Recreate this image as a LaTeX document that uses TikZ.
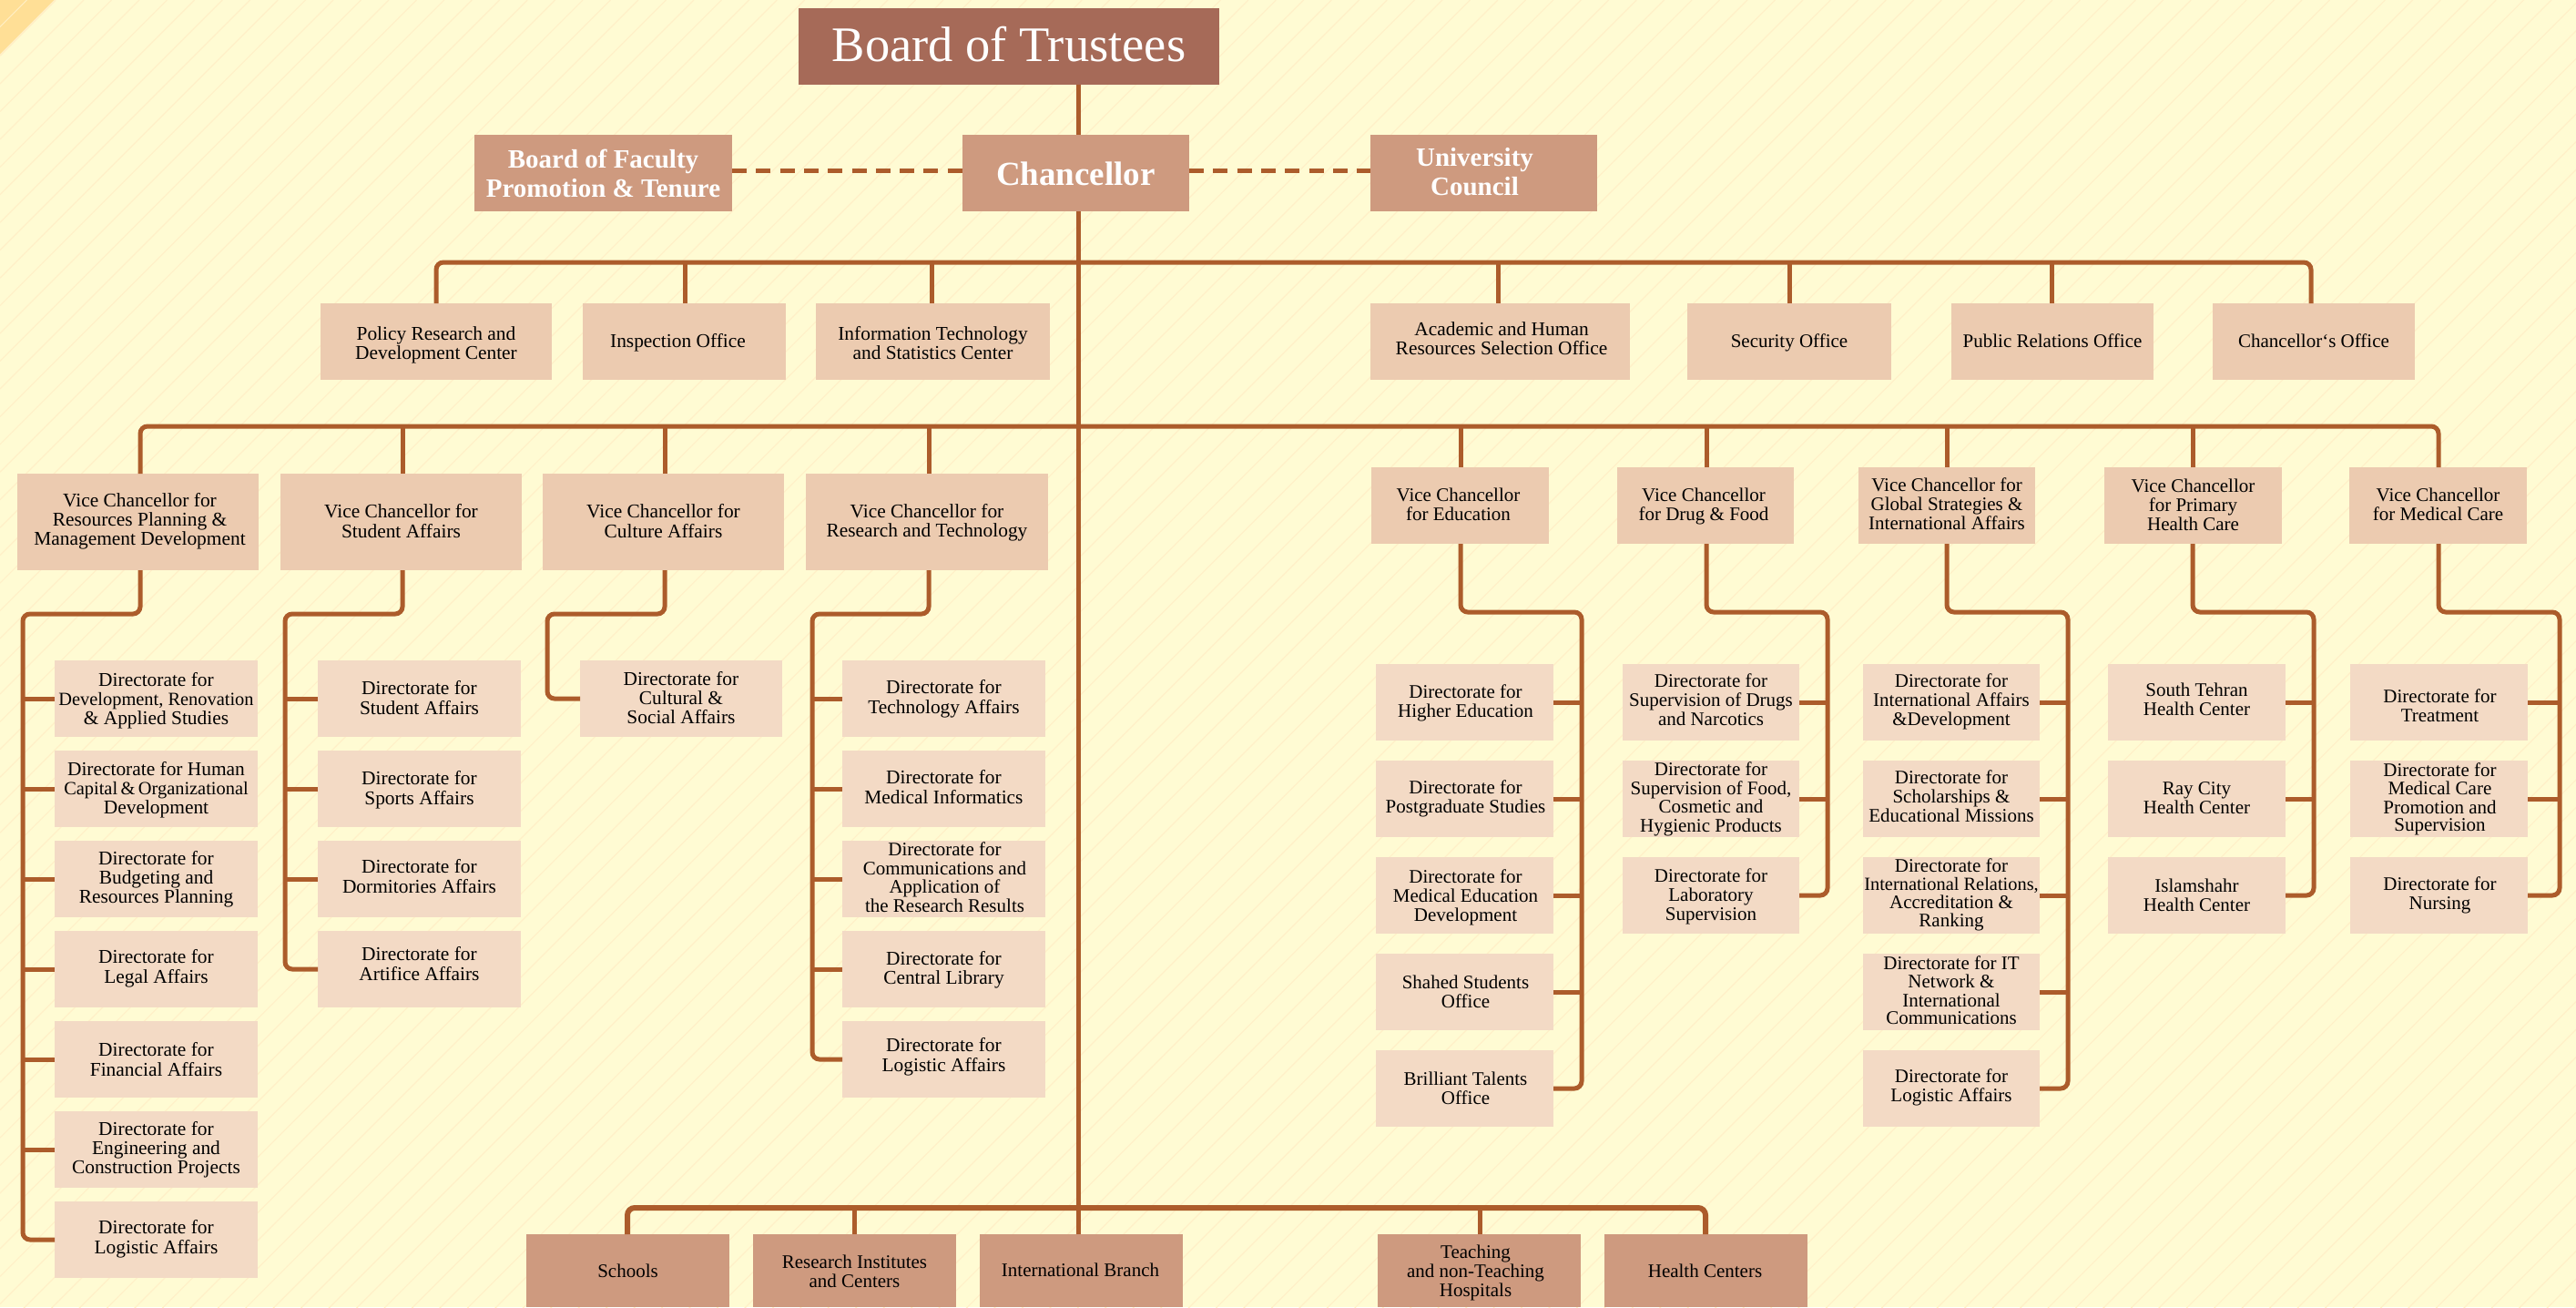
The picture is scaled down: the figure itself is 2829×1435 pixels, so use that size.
\documentclass[tikz,border=0pt]{standalone}
\usepackage{fontspec}
\setmainfont{Liberation Serif}
\definecolor{bgc}{HTML}{FFFBD3}
\definecolor{hatchc}{HTML}{FFF0C8}
\definecolor{cornerc}{HTML}{FFDF96}
\definecolor{linec}{HTML}{AC5C2B}
\definecolor{trustc}{HTML}{A66A58}
\definecolor{chanc}{HTML}{CE9A7F}
\definecolor{vicec}{HTML}{ECCBB0}
\definecolor{direcc}{HTML}{F3DAC5}
\newsavebox{\txbox}
\newlength{\txraise}
% shifted, centred text inside a box node
\newcommand{\tx}[3]{\sbox{\txbox}{\begin{tabular}{@{}c@{}}#3\end{tabular}}%
\setlength{\txraise}{\dimexpr(\dp\txbox-\ht\txbox)/2-#2pt\relax}%
\makebox[0pt][c]{\hspace*{#1pt}\hspace*{#1pt}\raisebox{\txraise}[0pt][0pt]{\usebox{\txbox}}}}
% name, style, x1, y1, x2, y2, dx, dy, text
\newcommand{\bx}[9]{\node[#2,minimum width={(#5-#3)*1pt},minimum height={(#6-#4)*1pt}] (#1) at ({(#3+#5)/2},{(#4+#6)/2}) {\tx{#7}{#8}{#9}};}
\newcommand{\nar}[1]{{\fontsize{20.4}{21}\selectfont #1}}
\tikzset{
  boxbase/.style={inner sep=0pt,outer sep=0pt,text=black,font=\fontsize{21}{21}\selectfont},
  wide/.style={font=\fontsize{21.4}{21}\selectfont},
  trusteebox/.style={boxbase,fill=trustc,text=white,font=\fontsize{54.5}{60}\selectfont},
  chancbox/.style={boxbase,fill=chanc,text=white,font=\fontsize{37}{40}\selectfont\bfseries},
  sidebox/.style={boxbase,fill=chanc,text=white,font=\fontsize{29}{32}\selectfont\bfseries},
  vicebox/.style={boxbase,fill=vicec},
  direcbox/.style={boxbase,fill=direcc},
  tightbox/.style={boxbase,fill=direcc,font=\fontsize{21}{19.3}\selectfont},
  unitbox/.style={boxbase,fill=chanc},
  conn/.style={draw=linec,line width=5pt,rounded corners=8pt},
  dashconn/.style={draw=linec,line width=5pt,dash pattern=on 16pt off 10.3pt},
}
\begin{document}
\begin{tikzpicture}[x=1pt,y=-1pt]
\useasboundingbox (0,0) rectangle (2829,1435);
\begin{scope}
\clip (0,0) rectangle (2829,1435);
\fill[bgc] (0,0) rectangle (2829,1435);
\foreach \k in {3,...,140} {
  \pgfmathsetmacro{\s}{30.45*\k+0.65}
  \draw[hatchc,line width=1.2pt] (\s,0) -- (0,\s);
}
\fill[cornerc] (0,0) -- (61,0) -- (0,61) -- cycle;
\draw[hatchc,line width=2pt] (61,0) -- (0,61);
\draw[hatchc,line width=1pt] (29.5,0) -- (0,29.5);
\end{scope}

% top
\bx{board}{trusteebox}{877}{9}{1339}{93}{0}{4}{Board of Trustees}
\bx{chancellor}{chancbox}{1057}{148}{1306}{232}{0}{5}{Chancellor}
\bx{faculty}{sidebox}{521}{148}{804}{232}{0}{4}{Board of Faculty\\Promotion \& Tenure}
\bx{council}{sidebox}{1505}{148}{1754}{232}{-10}{2}{University\\Council}

% offices
\bx{off1}{vicebox,wide}{352}{333}{606}{417}{0}{5}{Policy Research and\\Development Center}
\bx{off2}{vicebox,wide}{640}{333}{863}{417}{-7}{2}{Inspection Office}
\bx{off3}{vicebox,wide}{896}{333}{1153}{417}{0}{5}{Information Technology\\and Statistics Center}
\bx{off4}{vicebox,wide}{1505}{333}{1790}{417}{1.5}{0}{Academic and Human\\Resources Selection Office}
\bx{off5}{vicebox}{1853}{333}{2077}{417}{0}{2}{Security Office}
\bx{off6}{vicebox}{2143}{333}{2365}{417}{0}{2}{Public Relations Office}
\bx{off7}{vicebox}{2430}{333}{2652}{417}{0}{2}{Chancellor‘s Office}

% vice chancellors
\bx{vc1}{vicebox,wide}{19}{520}{284}{626}{2}{0}{Vice Chancellor for\\Resources Planning \&\\Management Development}
\bx{vc2}{vicebox,wide}{308}{520}{573}{626}{0}{2}{Vice Chancellor for\\Student Affairs}
\bx{vc3}{vicebox,wide}{596}{520}{861}{626}{0}{2}{Vice Chancellor for\\Culture Affairs}
\bx{vc4}{vicebox,wide}{885}{520}{1151}{626}{0}{2}{Vice Chancellor for\\Research and Technology}
\bx{vc5}{vicebox}{1506}{513}{1701}{597}{-2}{2}{Vice Chancellor\\for Education}
\bx{vc6}{vicebox}{1776}{513}{1970}{597}{-2}{2}{Vice Chancellor\\for Drug \& Food}
\bx{vc7}{vicebox}{2041}{513}{2235}{597}{0}{1}{Vice Chancellor for\\Global Strategies \&\\International Affairs}
\bx{vc8}{vicebox}{2311}{513}{2506}{597}{0}{2}{Vice Chancellor\\for Primary\\Health Care}
\bx{vc9}{vicebox}{2580}{513}{2775}{597}{0}{2}{Vice Chancellor\\for Medical Care}

% column 1
\bx{a1}{direcbox,wide}{60}{725}{283}{809}{0}{3}{Directorate for\\\nar{Development, Renovation}\\\& Applied Studies}
\bx{a2}{direcbox,wide}{60}{824}{283}{908}{0}{2}{Directorate for Human\\\nar{Capital\,\&\,Organizational}\\Development}
\bx{a3}{direcbox,wide}{60}{923}{283}{1007}{0}{1}{Directorate for\\Budgeting and\\Resources Planning}
\bx{a4}{direcbox,wide}{60}{1022}{283}{1106}{0}{0}{Directorate for\\Legal Affairs}
\bx{a5}{direcbox,wide}{60}{1121}{283}{1205}{0}{3}{Directorate for\\Financial Affairs}
\bx{a6}{direcbox,wide}{60}{1220}{283}{1304}{0}{1}{Directorate for\\Engineering and\\Construction Projects}
\bx{a7}{direcbox,wide}{60}{1319}{283}{1403}{0}{0}{Directorate for\\Logistic Affairs}
% column 2
\bx{b1}{direcbox,wide}{349}{725}{572}{809}{0}{2}{Directorate for\\Student Affairs}
\bx{b2}{direcbox,wide}{349}{824}{572}{908}{0}{2}{Directorate for\\Sports Affairs}
\bx{b3}{direcbox,wide}{349}{923}{572}{1007}{0}{0}{Directorate for\\Dormitories Affairs}
\bx{b4}{direcbox,wide}{349}{1022}{572}{1106}{0}{-3}{Directorate for\\Artifice Affairs}
% column 3
\bx{c1}{direcbox,wide}{637}{725}{859}{809}{0}{2}{Directorate for\\Cultural \&\\Social Affairs}
% column 4
\bx{e1}{direcbox,wide}{925}{725}{1148}{809}{0}{1}{Directorate for\\Technology Affairs}
\bx{e2}{direcbox,wide}{925}{824}{1148}{908}{0}{1}{Directorate for\\Medical Informatics}
\bx{e3}{tightbox}{925}{923}{1148}{1007}{1}{1}{Directorate for\\Communications and\\Application of\\the Research Results}
\bx{e4}{direcbox,wide}{925}{1022}{1148}{1106}{0}{2}{Directorate for\\Central Library}
\bx{e5}{direcbox,wide}{925}{1121}{1148}{1205}{0}{-2}{Directorate for\\Logistic Affairs}
% column 5
\bx{f1}{direcbox}{1511}{729}{1706}{813}{1}{2}{Directorate for\\Higher Education}
\bx{f2}{direcbox}{1511}{835}{1706}{919}{1}{1}{Directorate for\\Postgraduate Studies}
\bx{f3}{direcbox}{1511}{941}{1706}{1025}{1}{3}{Directorate for\\Medical Education\\Development}
\bx{f4}{direcbox}{1511}{1047}{1706}{1131}{1}{3}{Shahed Students\\Office}
\bx{f5}{direcbox}{1511}{1153}{1706}{1237}{1}{3}{Brilliant Talents\\Office}
% column 6
\bx{g1}{direcbox}{1782}{729}{1976}{813}{0}{0}{Directorate for\\Supervision of Drugs\\and Narcotics}
\bx{g2}{tightbox}{1782}{835}{1976}{919}{0}{1}{Directorate for\\Supervision of Food,\\Cosmetic and\\Hygienic Products}
\bx{g3}{direcbox}{1782}{941}{1976}{1025}{0}{2}{Directorate for\\Laboratory\\Supervision}
% column 7
\bx{h1}{direcbox}{2046}{729}{2240}{813}{0}{0}{Directorate for\\International Affairs\\\&Development}
\bx{h2}{direcbox}{2046}{835}{2240}{919}{0}{0}{Directorate for\\Scholarships \&\\Educational Missions}
\bx{h3}{tightbox}{2046}{941}{2240}{1025}{0}{0}{Directorate for\\\nar{International Relations,}\\Accreditation \&\\Ranking}
\bx{h4}{tightbox}{2046}{1047}{2240}{1131}{0}{1}{Directorate for IT\\Network \&\\International\\Communications}
\bx{h5}{direcbox}{2046}{1153}{2240}{1237}{0}{0}{Directorate for\\Logistic Affairs}
% column 8
\bx{i1}{direcbox}{2315}{729}{2510}{813}{0}{0}{South Tehran\\Health Center}
\bx{i2}{direcbox}{2315}{835}{2510}{919}{0}{2}{Ray City\\Health Center}
\bx{i3}{direcbox}{2315}{941}{2510}{1025}{0}{3}{Islamshahr\\Health Center}
% column 9
\bx{k1}{direcbox}{2581}{729}{2776}{813}{1}{7}{Directorate for\\Treatment}
\bx{k2}{tightbox}{2581}{835}{2776}{919}{1}{1}{Directorate for\\Medical Care\\Promotion and\\Supervision}
\bx{k3}{direcbox}{2581}{941}{2776}{1025}{1}{1}{Directorate for\\Nursing}

% bottom
\bx{u1}{unitbox}{578}{1355}{801}{1435}{0}{3}{Schools}
\bx{u2}{unitbox}{827}{1355}{1050}{1435}{0}{4}{Research Institutes\\and Centers}
\bx{u3}{unitbox}{1076}{1355}{1299}{1435}{-1}{2}{International Branch}
\bx{u4}{unitbox}{1513}{1355}{1736}{1435}{-4}{3}{Teaching\\and non-Teaching\\Hospitals}
\bx{u5}{unitbox}{1762}{1355}{1985}{1435}{-1}{3}{Health Centers}

% main trunk
\coordinate (trunk) at (1184,0);
\coordinate (bus3) at (1184,1326);
\draw[conn] (trunk |- board.south) -- (trunk |- chancellor.north);
\draw[conn] (trunk |- chancellor.south) -- (bus3) -- (trunk |- u3.north);
\draw[dashconn] ([yshift=3pt]faculty.east) -- ([yshift=3pt]chancellor.west);
\draw[dashconn] ([yshift=3pt]chancellor.east) -- ([yshift=3pt]council.west);

% bus to offices
\coordinate (p1) at (479,288);
\coordinate (p2) at (752,288);
\coordinate (p3) at (1023,288);
\coordinate (p4) at (1645,288);
\coordinate (p5) at (1965,288);
\coordinate (p6) at (2253,288);
\coordinate (p7) at (2538,288);
\draw[conn] (p1 |- off1.north) -- (p1) -- (p7) -- (p7 |- off7.north);
\draw[conn] (p2) -- (p2 |- off2.north);
\draw[conn] (p3) -- (p3 |- off3.north);
\draw[conn] (p4) -- (p4 |- off4.north);
\draw[conn] (p5) -- (p5 |- off5.north);
\draw[conn] (p6) -- (p6 |- off6.north);

% bus to vice chancellors
\coordinate (v1) at (154,468);
\coordinate (v2) at (442,468);
\coordinate (v3) at (730,468);
\coordinate (v4) at (1020,468);
\coordinate (v5) at (1604,468);
\coordinate (v6) at (1874,468);
\coordinate (v7) at (2138,468);
\coordinate (v8) at (2408,468);
\coordinate (v9) at (2678,468);
\draw[conn] (v1 |- vc1.north) -- (v1) -- (v9) -- (v9 |- vc9.north);
\draw[conn] (v2) -- (v2 |- vc2.north);
\draw[conn] (v3) -- (v3 |- vc3.north);
\draw[conn] (v4) -- (v4 |- vc4.north);
\draw[conn] (v5) -- (v5 |- vc5.north);
\draw[conn] (v6) -- (v6 |- vc6.north);
\draw[conn] (v7) -- (v7 |- vc7.north);
\draw[conn] (v8) -- (v8 |- vc8.north);

% column trees (left side)
\coordinate (ta) at (25,674);
\coordinate (tb) at (313,674);
\coordinate (tc) at (601,674);
\coordinate (te) at (892,674);
\draw[conn] (v1 |- vc1.south) -- (v1 |- ta) -- (ta) -- (ta |- a7.west) -- (a7.west);
\foreach \n in {a1,a2,a3,a4,a5,a6} \draw[conn] (ta |- \n.west) -- (\n.west);
\draw[conn] (v2 |- vc2.south) -- (v2 |- tb) -- (tb) -- (tb |- b4.west) -- (b4.west);
\foreach \n in {b1,b2,b3} \draw[conn] (tb |- \n.west) -- (\n.west);
\draw[conn] (v3 |- vc3.south) -- (v3 |- tc) -- (tc) -- (tc |- c1.west) -- (c1.west);
\draw[conn] (v4 |- vc4.south) -- (v4 |- te) -- (te) -- (te |- e5.west) -- (e5.west);
\foreach \n in {e1,e2,e3,e4} \draw[conn] (te |- \n.west) -- (\n.west);

% column trees (right side)
\coordinate (tf) at (1737,672);
\coordinate (tg) at (2007,672);
\coordinate (th) at (2271,672);
\coordinate (ti) at (2541,672);
\coordinate (tk) at (2811,672);
\draw[conn] (v5 |- vc5.south) -- (v5 |- tf) -- (tf) -- (tf |- f5.east) -- (f5.east);
\foreach \n in {f1,f2,f3,f4} \draw[conn] (tf |- \n.east) -- (\n.east);
\draw[conn] (v6 |- vc6.south) -- (v6 |- tg) -- (tg) -- (tg |- g3.east) -- (g3.east);
\foreach \n in {g1,g2} \draw[conn] (tg |- \n.east) -- (\n.east);
\draw[conn] (v7 |- vc7.south) -- (v7 |- th) -- (th) -- (th |- h5.east) -- (h5.east);
\foreach \n in {h1,h2,h3,h4} \draw[conn] (th |- \n.east) -- (\n.east);
\draw[conn] (v8 |- vc8.south) -- (v8 |- ti) -- (ti) -- (ti |- i3.east) -- (i3.east);
\foreach \n in {i1,i2} \draw[conn] (ti |- \n.east) -- (\n.east);
\draw[conn] (v9 |- vc9.south) -- (v9 |- tk) -- (tk) -- (tk |- k3.east) -- (k3.east);
\foreach \n in {k1,k2} \draw[conn] (tk |- \n.east) -- (\n.east);

% bottom bus
\coordinate (q1) at (689,1326);
\coordinate (q2) at (938.5,1326);
\coordinate (q4) at (1625,1326);
\coordinate (q5) at (1873,1326);
\draw[conn,line width=6pt] (q1 |- u1.north) -- (q1) -- (q5) -- (q5 |- u5.north);
\draw[conn] (q2) -- (q2 |- u2.north);
\draw[conn] (q4) -- (q4 |- u4.north);
\end{tikzpicture}
\end{document}
